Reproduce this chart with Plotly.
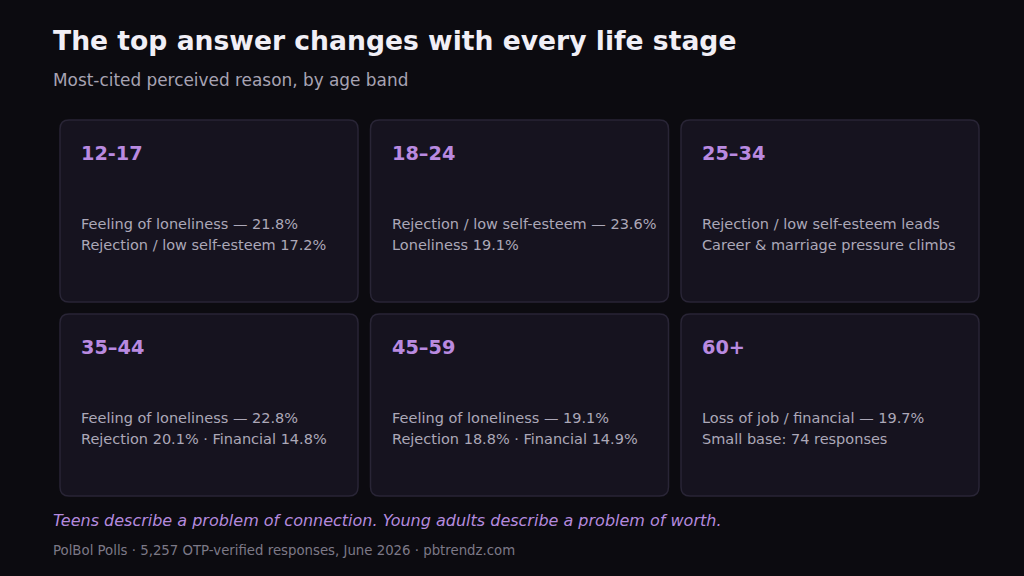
import plotly.graph_objects as go

# ---- data ----
age_bands = ["12-17", "18–24", "25–34", "35–44", "45–59", "60+"]
line_one = [
    "Feeling of loneliness — 21.8%",
    "Rejection / low self-esteem — 23.6%",
    "Rejection / low self-esteem leads",
    "Feeling of loneliness — 22.8%",
    "Feeling of loneliness — 19.1%",
    "Loss of job / financial — 19.7%",
]
line_two = [
    "Rejection / low self-esteem 17.2%",
    "Loneliness 19.1%",
    "Career & marriage pressure climbs",
    "Rejection 20.1% · Financial 14.8%",
    "Rejection 18.8% · Financial 14.9%",
    "Small base: 74 responses",
]
title_text = "The top answer changes with every life stage"
subtitle_text = "Most-cited perceived reason, by age band"
takeaway_text = "Teens describe a problem of connection. Young adults describe a problem of worth."
source_text = "PolBol Polls · 5,257 OTP-verified responses, June 2026 · pbtrendz.com"

# ---- layout constants ----
W, H = 1024, 576
BG = "#0c0b10"
CARD_FILL = "#16131f"
CARD_LINE = "#292536"
FONT = "DejaVu Sans"
col_x = [60, 370.5, 681]
row_y = [120, 314]
card_w, card_h, rad = 298, 182, 9


def rounded(x0, y0, x1, y1, r):
    return (f"M {x0+r},{y0} L {x1-r},{y0} Q {x1},{y0} {x1},{y0+r} "
            f"L {x1},{y1-r} Q {x1},{y1} {x1-r},{y1} L {x0+r},{y1} "
            f"Q {x0},{y1} {x0},{y1-r} L {x0},{y0+r} Q {x0},{y0} {x0+r},{y0} Z")


fig = go.Figure()
shapes = []
annotations = []

def txt(x, y, s, size, color, bold=False, italic=False, family=FONT):
    annotations.append(dict(
        x=x, y=y, xref="x", yref="y", text=(f"<b>{s}</b>" if bold else (f"<i>{s}</i>" if italic else s)),
        showarrow=False, xanchor="left", yanchor="middle",
        font=dict(family=family, size=size, color=color),
    ))

for i, band in enumerate(age_bands):
    cx = col_x[i % 3]
    cy = row_y[i // 3]
    shapes.append(dict(type="path", xref="x", yref="y",
                       path=rounded(cx, cy, cx + card_w, cy + card_h, rad),
                       fillcolor=CARD_FILL, line=dict(color=CARD_LINE, width=1.5), layer="below"))
    txt(cx + 19, cy + 33, band, 19.3, "#b98ae0", bold=True)
    txt(cx + 19, cy + 104, line_one[i], 14.5, "#aca8b8")
    txt(cx + 19, cy + 125, line_two[i], 14.5, "#aca8b8")

txt(51, 40, title_text, 26.6, "#f1eff6", bold=True)
txt(51, 80, subtitle_text, 16.9, "#a7a3b3")
txt(51, 520, takeaway_text, 16, "#b48ade", italic=True)
txt(51, 550, source_text, 13.3, "#7c7987")

fig.add_trace(go.Scatter(x=[0, W], y=[0, H], mode="markers",
                         marker=dict(opacity=0), hoverinfo="skip", showlegend=False))

fig.update_layout(
    width=W, height=H,
    margin=dict(l=0, r=0, t=0, b=0),
    paper_bgcolor=BG, plot_bgcolor=BG,
    xaxis=dict(range=[0, W], visible=False, fixedrange=True),
    yaxis=dict(range=[H, 0], visible=False, fixedrange=True),
    shapes=shapes, annotations=annotations,
    showlegend=False,
)

fig.write_html("out.html", config={"displayModeBar": False},
               post_script="document.body.style.margin='0';document.body.style.background='#0c0b10';")
